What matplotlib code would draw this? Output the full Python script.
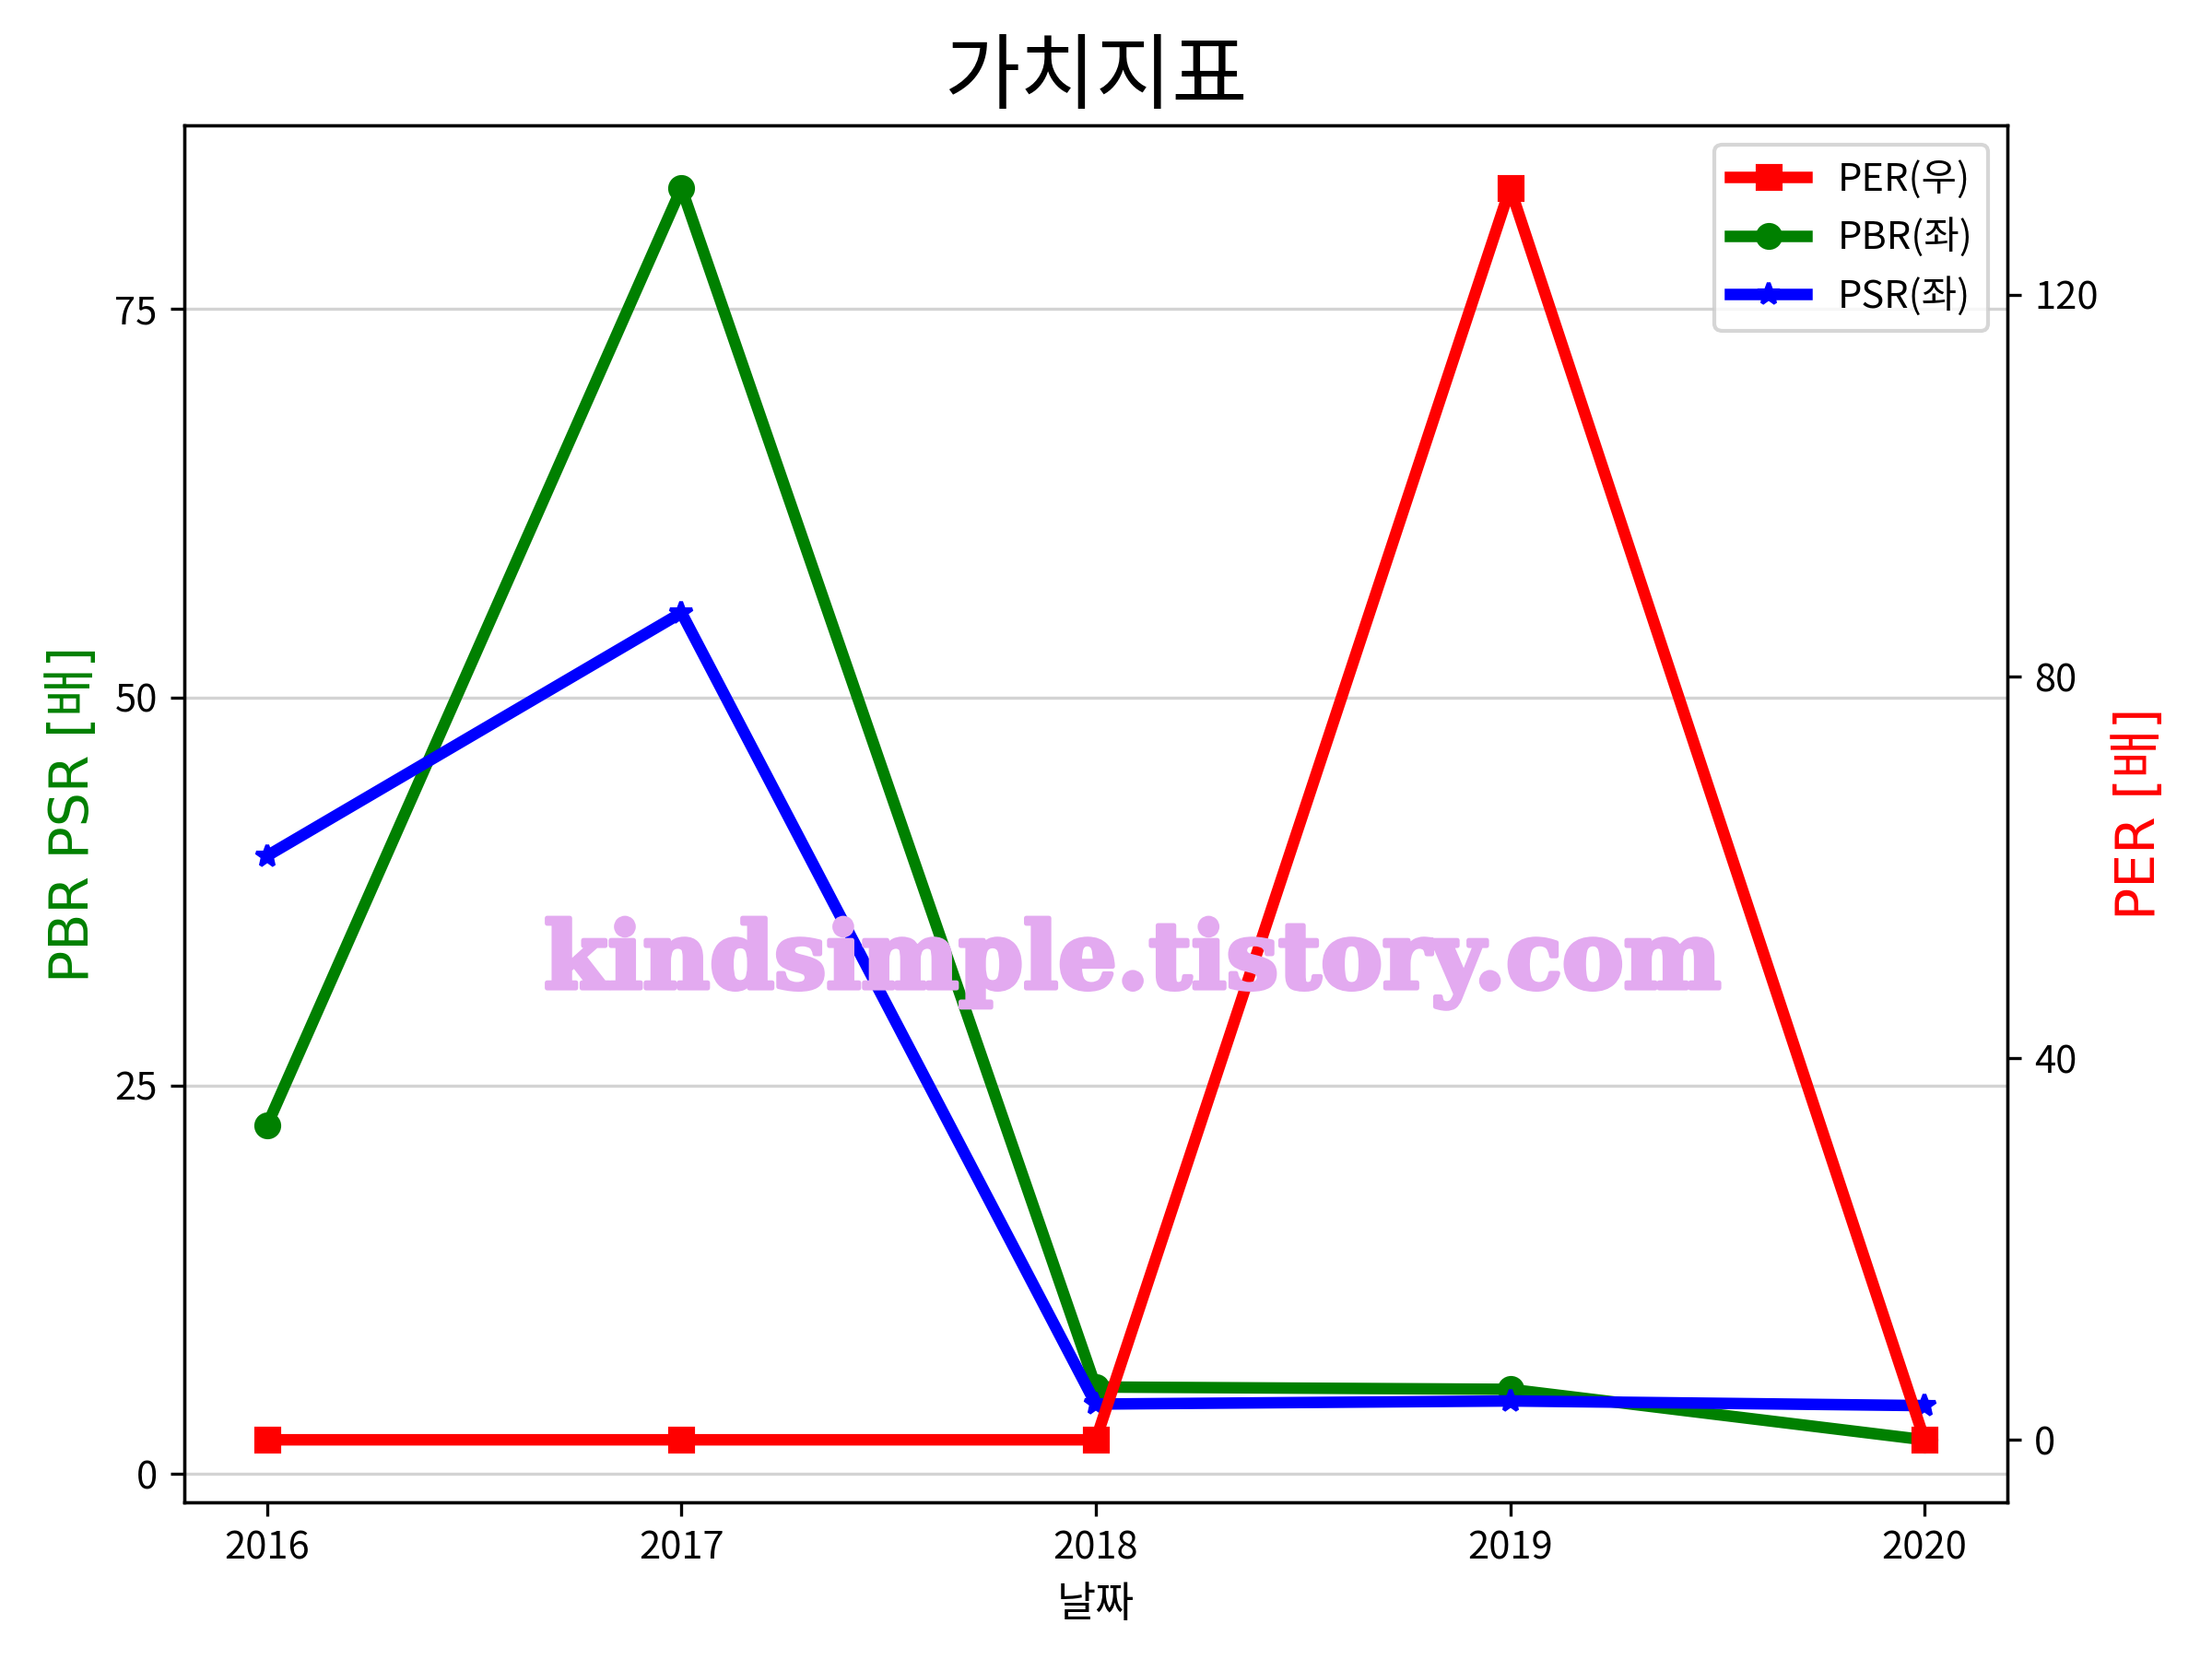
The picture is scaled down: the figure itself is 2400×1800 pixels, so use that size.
import matplotlib
matplotlib.use("Agg")
import matplotlib.pyplot as plt
import matplotlib.patheffects as pe

plt.rcParams['font.family'] = ['Noto Sans CJK KR', 'DejaVu Sans']
plt.rcParams['axes.unicode_minus'] = False

# values
years = [2016, 2017, 2018, 2019, 2020]
per = [0.0, 0.0, 0.0, 131.2, 0.0]
pbr = [22.45, 82.8, 5.6, 5.45, 2.2]
psr = [39.8, 55.45, 4.5, 4.7, 4.4]

left_ticks = [0, 25, 50, 75]
right_ticks = [0, 40, 80, 120]

fig, ax1 = plt.subplots(figsize=(8, 6), dpi=300)
fig.subplots_adjust(left=0.0833, right=0.9075, top=0.9244, bottom=0.0944)
ax2 = ax1.twinx()

l_pbr, = ax1.plot(years, pbr, color='green', marker='o', linewidth=3, label='PBR(좌)')
l_psr, = ax1.plot(years, psr, color='blue', marker='*', linewidth=3, label='PSR(좌)')
l_per, = ax2.plot(years, per, color='red', marker='s', linewidth=3, label='PER(우)')

ax1.set_xticks(years)
ax1.set_xticklabels([str(y) for y in years])
ax1.set_yticks(left_ticks)
ax2.set_yticks(right_ticks)
ax1.grid(axis='y', color='lightgray', linewidth=0.8)

label_font = ['DejaVu Sans', 'Noto Sans CJK KR']
ax1.set_xlabel('날짜', fontsize=11)
ax1.set_ylabel('PBR PSR [배]', color='green', fontsize=14, family=label_font)
ax2.set_ylabel('PER [배]', color='red', fontsize=14, family=label_font)
ax1.set_title('가치지표', fontsize=21.5)

ax2.legend(handles=[l_per, l_pbr, l_psr], loc='upper right')

fig.text(0.512, 0.4044, 'kindsimple.tistory.com', ha='center', va='baseline',
         fontsize=24, fontweight='bold', family='DejaVu Serif', color='#E3AAF0',
         path_effects=[pe.withStroke(linewidth=1.2, foreground='#E3AAF0')])

fig.savefig('out.png', dpi=300)
